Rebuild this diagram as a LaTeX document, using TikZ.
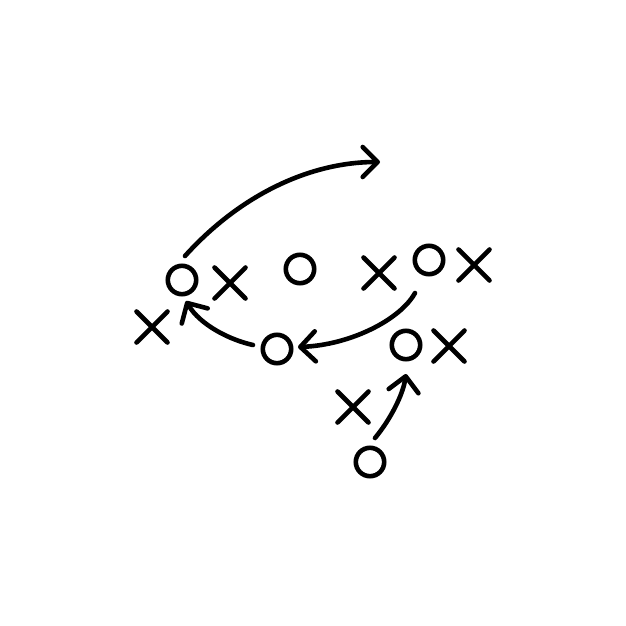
\documentclass[tikz,border=0pt]{standalone}
\usetikzlibrary{shapes.misc,arrows.meta}
\begin{document}
\begin{tikzpicture}[x=1pt,y=-1pt,
  circ/.style={circle,draw,line width=4.6pt,minimum size=28.4pt,inner sep=0pt},
  xmark/.style={cross out,draw,line width=4.6pt,minimum size=26.4pt,inner sep=0pt,line cap=round},
  play/.style={line width=4.6pt,line cap=round,-{Straight Barb[length=15pt,width=30pt,line cap=round,line join=round]}}]
\fill[white] (0,0) rectangle (626,626);
\useasboundingbox (0,0) rectangle (626,626);
% circles
\node[circ] (o1) at (182,280) {};
\node[circ] (o2) at (300,269) {};
\node[circ] (o3) at (429,260) {};
\node[circ] (o4) at (277,349) {};
\node[circ] (o5) at (406,345) {};
\node[circ] (o6) at (370,462) {};
% crosses
\node[xmark] (x1) at (230,283) {};
\node[xmark] (x2) at (152,327) {};
\node[xmark] (x3) at (379,273) {};
\node[xmark] (x4) at (474,265) {};
\node[xmark] (x5) at (449,346) {};
\node[xmark] (x6) at (353,407) {};
% arrow endpoints
\coordinate (a1s) at (185,256);
\coordinate (a1e) at (380,162);
\coordinate (a2s) at (415,293);
\coordinate (a2e) at (298,347);
\coordinate (a3s) at (253,345);
\coordinate (a3e) at (186,301);
\coordinate (a4s) at (375,438);
\coordinate (a4e) at (406,374);
% arrows
\draw[play] (a1s) .. controls (240,195) and (310,162) .. (a1e);
\draw[play] (a2s) .. controls (400,320) and (350,345) .. (a2e);
\draw[play] (a3s) .. controls (230,340) and (200,325) .. (a3e);
\draw[play] (a4s) .. controls (390,420) and (403,395) .. (a4e);
\end{tikzpicture}
\end{document}
